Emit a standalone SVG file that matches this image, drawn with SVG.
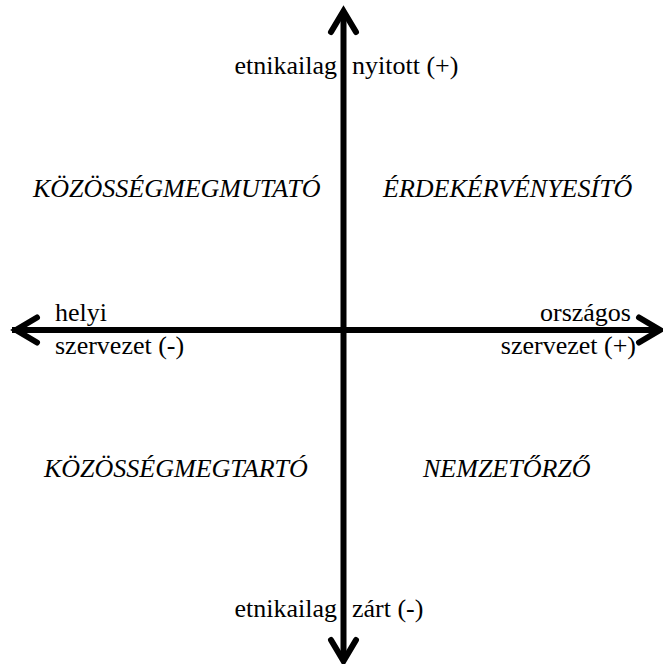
<svg xmlns="http://www.w3.org/2000/svg" width="663" height="664" viewBox="0 0 663 664">
  <rect width="663" height="664" fill="#fff"/>

  <g id="axes" stroke="#000" stroke-width="6" fill="none">
    <line x1="343.5" y1="12" x2="343.5" y2="658"/>
    <line x1="12" y1="330" x2="656" y2="330"/>
    <polyline points="331,32 343.5,11 356,32" stroke-linecap="round"/>
    <polyline points="331,640 343.5,661 356,640" stroke-linecap="round"/>
    <polyline points="37,317.5 16,330 37,342.5" stroke-linecap="round"/>
    <polyline points="639,317.5 660,330 639,342.5" stroke-linecap="round"/>
  </g>

  <text x="337" y="74" font-family="Times New Roman, Liberation Serif, serif" font-size="26" text-anchor="end">etnikailag</text>
  <text x="352" y="74" font-family="Times New Roman, Liberation Serif, serif" font-size="26">nyitott (+)</text>
  <text x="337" y="617" font-family="Times New Roman, Liberation Serif, serif" font-size="26" text-anchor="end">etnikailag</text>
  <text x="352" y="617" font-family="Times New Roman, Liberation Serif, serif" font-size="26">zárt (-)</text>
  <text x="55" y="321" font-family="Times New Roman, Liberation Serif, serif" font-size="26">helyi</text>
  <text x="55" y="354" font-family="Times New Roman, Liberation Serif, serif" font-size="26">szervezet (-)</text>
  <text x="631" y="321" font-family="Times New Roman, Liberation Serif, serif" font-size="26" text-anchor="end">országos</text>
  <text x="636" y="354" font-family="Times New Roman, Liberation Serif, serif" font-size="26" text-anchor="end">szervezet (+)</text>

  <text x="33" y="197" font-family="Times New Roman, Liberation Serif, serif" font-size="26" font-style="italic">KÖZÖSSÉGMEGMUTATÓ</text>
  <text x="383" y="197" font-family="Times New Roman, Liberation Serif, serif" font-size="26" font-style="italic">ÉRDEKÉRVÉNYESÍTŐ</text>
  <text x="44" y="477" font-family="Times New Roman, Liberation Serif, serif" font-size="26" font-style="italic">KÖZÖSSÉGMEGTARTÓ</text>
  <text x="423" y="477" font-family="Times New Roman, Liberation Serif, serif" font-size="26" font-style="italic">NEMZETŐRZŐ</text>
</svg>
